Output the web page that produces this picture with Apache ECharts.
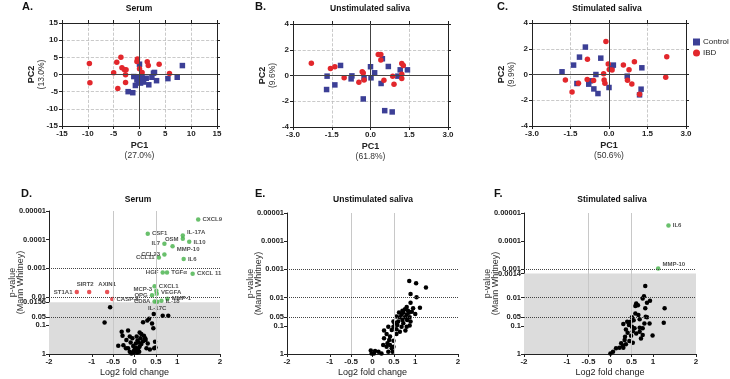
<!DOCTYPE html>
<html><head><meta charset="utf-8">
<script src="https://cdn.jsdelivr.net/npm/echarts@6/dist/echarts.min.js"></script>
<style>html,body{margin:0;padding:0;background:#fff}#c{width:730px;height:379px}</style>
</head><body><div id="c"></div>
<script>
// ---------------- DATA ----------------
const pcaTitles = ['Serum', 'Unstimulated saliva', 'Stimulated saliva'];
const pcaLetters = ['A.', 'B.', 'C.'];
const pc1Var = ['(27.0%)', '(61.8%)', '(50.6%)'];
const pc2Var = ['(13.0%)', '(9.6%)', '(9.9%)'];
const pcaTicksA = [-15, -10, -5, 0, 5, 10, 15];
const pcaXTicksBC = [-3.0, -1.5, 0.0, 1.5, 3.0];
const pcaYTicksBC = [-4, -2, 0, 2, 4];
const groupNames = ['Control', 'IBD'];

const pcaA_control = [[8.3,2.6],[7.3,-0.8],[5.5,-1.2],[3.3,-1.8],[2.7,0.4],[2.9,0.6],[1.3,-1.1],[1.8,-3.0],[0.0,3.0],[-1.1,-0.6],[-0.8,-3.2],[-2.2,-5.0],[-1.3,-5.3],[-0.2,-2.0],[0.2,-2.5],[0.5,-0.8],[-0.5,-1.6],[2.4,-0.8],[0.8,-2.2],[-0.3,-0.9]];
const pcaA_ibd = [[-9.7,3.2],[-9.6,-2.4],[-3.6,5.0],[-4.4,3.6],[-5.0,0.5],[-3.4,2.0],[-2.9,1.4],[-2.6,1.4],[-2.7,-0.1],[-2.7,-2.3],[-4.2,-4.1],[-0.4,4.5],[-0.5,3.8],[0.0,1.7],[0.5,0.6],[1.5,3.7],[1.7,2.6],[3.8,3.0],[5.8,0.3]];
const pcaB_control = [[-1.68,-0.05],[-1.70,-1.09],[-1.38,-0.73],[-1.16,0.78],[-0.72,-0.03],[-0.75,-0.26],[-0.25,-0.23],[-0.28,-1.82],[0.0,0.68],[0.02,-0.18],[0.16,0.21],[0.46,1.3],[0.41,-0.62],[0.69,0.70],[0.55,-2.73],[0.84,-2.83],[1.06,-0.05],[1.15,0.44],[1.43,0.44]];
const pcaB_ibd = [[-2.29,0.96],[-1.55,0.55],[-1.38,0.68],[-1.02,-0.18],[-0.45,-0.52],[-0.32,0.29],[-0.25,-0.35],[0.30,1.64],[0.40,1.64],[0.40,1.2],[0.52,-0.36],[0.86,-0.05],[0.91,-0.68],[1.21,0.94],[1.27,0.78],[1.21,0.10],[1.21,-0.23],[-0.28,0.2]];
const pcaC_control = [[-1.83,0.21],[-1.38,0.73],[-1.25,-0.70],[-1.15,1.35],[-0.92,2.13],[-0.79,-0.75],[-0.73,-0.49],[-0.59,-1.12],[-0.51,0.0],[-0.43,-1.48],[-0.32,1.27],[0.0,-1.01],[0.11,0.62],[0.17,0.73],[0.71,-0.13],[1.28,0.52],[1.25,-1.14],[1.19,-1.58]];
const pcaC_ibd = [[-1.70,-0.42],[-1.44,-1.35],[-1.19,-0.68],[-0.84,1.19],[-0.85,-0.39],[-0.60,-0.47],[-0.21,0.05],[-0.19,-0.42],[-0.16,-0.68],[-0.12,2.57],[-0.03,0.81],[0.01,0.39],[0.12,0.34],[0.56,0.73],[0.78,0.36],[0.72,-0.44],[0.89,-0.73],[0.99,0.99],[1.19,-1.53],[2.25,1.38],[2.21,-0.21]];

const volcTitles = ['Serum', 'Unstimulated saliva', 'Stimulated saliva'];
const volcLetters = ['D.', 'E.', 'F.'];
const volcXTicks = [-2, -1, -0.5, 0, 0.5, 1, 2];
const pTicksD = ['0.00001','0.0001','0.001','0.01','0.0156','0.05','0.1','1'];
const pTicksE = ['0.00001','0.0001','0.001','0.01','0.05','0.1','1'];
const pTicksF = ['0.00001','0.0001','0.001','0.0014','0.01','0.05','0.1','1'];
const pThresholdD = 0.0156;
const pThresholdF = 0.0014;
const pDottedLines = [0.001, 0.01, 0.05];
const fcLines = [-0.5, 0.5];

// Serum volcano: up-regulated (green)
const dUpNames = ['CXCL9','CSF1','IL-17A','OSM','IL10','IL7','MMP-10','CCL23','CCL11','IL6','HGF','TGFα','CXCL 11','CXCL1','MCP-3','VEGFA','OPG','MMP-1','CD8A','IL-17C','IL-18'];
const dUpLog2FC = [1.49,0.31,1.13,1.13,1.28,0.70,0.89,0.70,0.57,1.15,0.66,0.76,1.36,0.47,0.51,0.52,0.41,0.77,0.47,0.53,0.63];
const dUpP = [0.000020,0.000062,0.000072,0.000093,0.00012,0.00014,0.00017,0.00033,0.00042,0.00048,0.0014,0.0014,0.00155,0.0043,0.0062,0.0078,0.0089,0.0117,0.0145,0.0148,0.0138];
// Serum volcano: down-regulated (red)
const dDownNames = ['ST1A1','SIRT2','AXIN1','CASP-8'];
const dDownLog2FC = [-1.35,-1.06,-0.64,-0.52];
const dDownP = [0.0068,0.0068,0.0068,0.012];
// Serum volcano: not significant [log2FC, p]
const dNS = [[-0.57,0.0234],[-0.70,0.079],[0.45,0.040],[0.79,0.046],[0.66,0.046],[0.34,0.058],[0.30,0.068],[0.20,0.078],[0.41,0.085],[-0.15,0.151],[-0.30,0.166],[-0.28,0.229],[-0.38,0.513],[-0.26,0.49],[-0.19,0.324],[-0.11,0.245],[-0.05,0.282],[0.05,0.245],[0.12,0.178],[0.16,0.20],[0.22,0.229],[0.26,0.324],[0.31,0.427],[0.48,0.372],[0.49,0.589],[-0.15,0.631],[-0.11,0.832],[-0.07,0.955],[-0.02,0.891],[0.05,0.759],[0.09,0.631],[0.12,0.55],[0.16,0.447],[-0.03,0.525],[0.03,0.427],[0.07,0.339],[0.28,0.631],[0.36,0.692],[0.20,0.355],[-0.09,0.398],[-0.20,0.631],[0.11,0.832],[0.06,0.891],[0.00,0.708],[0.02,0.60],[-0.02,0.794],[0.14,0.282],[0.25,0.282],[0.10,0.398],[0.44,0.126],[0.46,0.63]];
// Unstimulated saliva volcano [log2FC, p]
const eNS = [[0.86,0.0026],[1.02,0.0031],[1.25,0.0044],[0.89,0.0074],[1.03,0.0098],[0.89,0.0151],[1.11,0.0229],[0.95,0.024],[0.80,0.0214],[0.76,0.0257],[0.83,0.0295],[0.70,0.0295],[0.92,0.0316],[1.00,0.038],[0.80,0.0407],[0.76,0.050],[0.64,0.050],[0.56,0.0468],[0.70,0.0617],[0.81,0.0617],[0.60,0.0708],[0.49,0.0708],[0.58,0.0933],[0.68,0.107],[0.87,0.098],[0.49,0.107],[0.37,0.107],[0.72,0.081],[0.80,0.107],[0.45,0.141],[0.56,0.132],[0.77,0.148],[0.64,0.162],[0.27,0.148],[0.33,0.195],[0.56,0.195],[0.27,0.275],[0.41,0.24],[0.49,0.339],[0.39,0.316],[0.35,0.417],[0.41,0.479],[0.33,0.55],[0.25,0.479],[0.45,0.631],[0.49,0.55],[0.37,0.832],[0.21,0.955],[0.14,0.832],[-0.04,0.759],[0.06,0.776],[0.03,0.955],[-0.02,0.955],[0.47,0.832],[0.62,0.0339],[0.68,0.0407],[0.87,0.050],[0.89,0.0708],[0.52,0.081],[0.72,0.0339],[0.85,0.0347]];
// Stimulated saliva volcano
const fUpNames = ['IL6','MMP-10'];
const fUpLog2FC = [1.36,1.12];
const fUpP = [0.0000275,0.00093];
const fNS = [[0.82,0.0039],[0.79,0.0089],[0.76,0.0107],[0.93,0.0129],[0.86,0.0151],[0.61,0.0162],[0.65,0.0186],[0.59,0.020],[1.27,0.024],[0.82,0.024],[0.59,0.0363],[0.66,0.0417],[0.83,0.0479],[0.86,0.050],[0.51,0.050],[0.55,0.063],[0.69,0.0589],[0.40,0.0724],[0.48,0.0724],[1.25,0.0776],[0.92,0.0832],[0.44,0.0933],[0.51,0.107],[0.69,0.117],[0.76,0.123],[0.31,0.087],[0.37,0.135],[0.53,0.155],[0.69,0.162],[0.76,0.214],[0.99,0.219],[0.35,0.245],[0.49,0.224],[0.61,0.186],[0.72,0.282],[0.34,0.316],[0.45,0.347],[0.53,0.398],[0.26,0.417],[0.37,0.447],[0.30,0.513],[0.22,0.603],[0.31,0.603],[0.14,0.631],[0.07,0.832],[0.01,0.955],[0.41,0.178],[0.57,0.123],[0.80,0.0832]];

// ---------------- STYLE ----------------
const FONT = '"Liberation Sans", Arial, sans-serif';
const C_BLUE = '#3c3f96', C_RED = '#e2272c', C_GREEN = '#43b047';
const AX = '#222';
const labelPlaceD = {
  'CXCL9':['right',[0,0]],'CSF1':['right',[0,0]],'IL-17A':['right',[0,-3]],'OSM':['left',[0,1]],'IL10':['right',[0,0]],
  'IL7':['left',[0,0]],'MMP-10':['right',[0,3]],'CCL23':['left',[0,0]],'CCL11':['left',[0,0]],'IL6':['right',[0,0]],
  'HGF':['left',[0,0]],'TGFα':['right',[0,0]],'CXCL 11':['right',[0,0]],'CXCL1':['right',[0,0]],'MCP-3':['left',[0,-2]],
  'VEGFA':['right',[0,-1]],'OPG':['left',[0,0]],'MMP-1':['right',[0,0]],'CD8A':['left',[0,0]],'IL-17C':['bottom',[0,-1]],
  'IL-18':['right',[0,1]],'ST1A1':['left',[0,0]],'SIRT2':['top',[-4,0]],'AXIN1':['top',[0,0]],'CASP-8':['right',[0,0]]
};
const labelPlaceF = {'IL6':['right',[0,0]],'MMP-10':['right',[0,-4]]};

const pcaGrids = [
  {left:62, top:23, width:155, height:103},
  {left:293, top:24, width:155, height:103},
  {left:532, top:23, width:154, height:103}
];
const volcGrids = [
  {left:49, top:211, width:171, height:143},
  {left:287, top:213, width:171, height:141},
  {left:524, top:213, width:172, height:141}
];
const pcaTitleX = [139, 370, 607];
const pcaLetterX = [22, 255, 497];
const volcTitleX = [138, 373, 612];
const volcLetterX = [21, 255, 494];

const nl = p => -Math.log10(p);

const grid = [], xAxis = [], yAxis = [], series = [], title = [];
[...pcaGrids, ...volcGrids].forEach(g => grid.push(Object.assign({outerBoundsMode:'none', containLabel:false}, g)));

const richName = {
  b:{fontSize:9, fontWeight:'bold', fontFamily:FONT, color:'#222', lineHeight:10},
  n:{fontSize:8.5, fontFamily:FONT, color:'#333', lineHeight:10}
};
const tickLabel = {fontSize:8, fontWeight:'bold', color:'#222', fontFamily:FONT};

// PCA panels
const pcaData = [[pcaA_control, pcaA_ibd],[pcaB_control, pcaB_ibd],[pcaC_control, pcaC_ibd]];
for (let i = 0; i < 3; i++) {
  const xt = i === 0 ? pcaTicksA : pcaXTicksBC;
  const yt = i === 0 ? pcaTicksA : pcaYTicksBC;
  const fmt = i === 0 ? (v => String(v)) : (v => v.toFixed(1));
  const base = {
    gridIndex:i, type:'value', nameMoveOverlap:false,
    axisLine:{show:true, onZero:false, lineStyle:{color:AX, width:1}},
    axisTick:{show:true, length:3, lineStyle:{color:AX}}
  };
  const xi = xAxis.length;
  xAxis.push(Object.assign({}, base, {
    position:'bottom', min:xt[0], max:xt[xt.length-1], interval:xt[1]-xt[0],
    axisLabel:Object.assign({margin:4, formatter:fmt}, tickLabel),
    splitLine:{show:true, lineStyle:{type:'dashed', color:'#bcbcbc', width:0.8}},
    name:'{b|PC1}\n{n|' + pc1Var[i] + '}', nameLocation:'middle', nameGap:15,
    nameTextStyle:{rich:richName}
  }));
  xAxis.push(Object.assign({}, base, {
    position:'top', min:xt[0], max:xt[xt.length-1], interval:xt[1]-xt[0],
    axisLabel:{show:false}, splitLine:{show:false}
  }));
  const yi = yAxis.length;
  yAxis.push(Object.assign({}, base, {
    position:'left', min:yt[0], max:yt[yt.length-1], interval:yt[1]-yt[0],
    axisLabel:Object.assign({margin:4}, tickLabel),
    splitLine:{show:true, lineStyle:{type:'dashed', color:'#bcbcbc', width:0.8}},
    name:'{b|PC2}\n{n|' + pc2Var[i] + '}', nameLocation:'middle', nameGap:15, nameRotate:90,
    nameTextStyle:{rich:richName}
  }));
  yAxis.push(Object.assign({}, base, {
    position:'right', min:yt[0], max:yt[yt.length-1], interval:yt[1]-yt[0],
    axisLabel:{show:false}, splitLine:{show:false}
  }));
  series.push({
    type:'line', name:'_zero' + i, xAxisIndex:xi, yAxisIndex:yi, data:[], silent:true, z:1,
    markLine:{silent:true, symbol:'none', label:{show:false}, animation:false,
      lineStyle:{color:'#444', type:'solid', width:1},
      data:[{xAxis:0},{yAxis:0}]}
  });
  series.push({type:'scatter', name:groupNames[0], xAxisIndex:xi, yAxisIndex:yi, data:pcaData[i][0],
    symbol:'rect', symbolSize:5.5, itemStyle:{color:C_BLUE, opacity:1}, z:3, animation:false});
  series.push({type:'scatter', name:groupNames[1], xAxisIndex:xi, yAxisIndex:yi, data:pcaData[i][1],
    symbol:'circle', symbolSize:5.5, itemStyle:{color:C_RED, opacity:1}, z:4, animation:false});
  title.push({text:pcaLetters[i], left:pcaLetterX[i], top:1, padding:0,
    textStyle:{fontSize:11, fontWeight:'bold', fontFamily:FONT, color:'#111'}});
  title.push({text:pcaTitles[i], left:pcaTitleX[i], top:4, padding:0, textAlign:'center',
    textStyle:{fontSize:8.5, fontWeight:'bold', fontFamily:FONT, color:'#111'}});
}

// Volcano panels
const pTicksAll = [pTicksD, pTicksE, pTicksF];
const thresholds = [pThresholdD, null, pThresholdF];
function labelled(names, fc, p, place, color) {
  return names.map((n, k) => ({
    name:n, value:[fc[k], nl(p[k])],
    label:{show:true, formatter:n, position:place[n][0], offset:place[n][1], distance:2,
      fontSize:6, fontWeight:'bold', fontFamily:FONT, color:'#1a1a1a'},
    itemStyle:{color:color}
  }));
}
for (let i = 0; i < 3; i++) {
  const gi = 3 + i;
  const ticks = pTicksAll[i];
  const tickVals = ticks.map(s => nl(parseFloat(s)));
  const xi = xAxis.length;
  xAxis.push({
    gridIndex:gi, type:'value', min:-2, max:2, interval:0.5, position:'bottom', nameMoveOverlap:false,
    axisLine:{show:true, onZero:false, lineStyle:{color:AX, width:1}},
    axisTick:{show:true, length:3, lineStyle:{color:AX}, customValues:volcXTicks},
    axisLabel:Object.assign({margin:4, customValues:volcXTicks, formatter:v => String(v)}, tickLabel),
    splitLine:{show:false},
    name:'Log2 fold change', nameLocation:'middle', nameGap:14,
    nameTextStyle:{fontSize:9, fontFamily:FONT, color:'#222'}
  });
  const yi = yAxis.length;
  yAxis.push({
    gridIndex:gi, type:'value', min:0, max:5, position:'left', nameMoveOverlap:false,
    axisLine:{show:true, onZero:false, lineStyle:{color:AX, width:1}},
    axisTick:{show:true, length:3, lineStyle:{color:AX}, customValues:tickVals},
    axisLabel:Object.assign({margin:3, customValues:tickVals, formatter:v => {
      let best = ticks[0], bd = 1e9;
      ticks.forEach((s, k) => { const d = Math.abs(tickVals[k] - v); if (d < bd) { bd = d; best = s; } });
      return best;
    }}, tickLabel, {fontSize:7.5}),
    splitLine:{show:false},
    name:'p-value\n(Mann Whitney)', nameLocation:'middle', nameGap:24, nameRotate:90,
    nameTextStyle:{fontSize:9, fontFamily:FONT, color:'#333', lineHeight:8.5}
  });
  const mlData = [];
  fcLines.forEach(x => mlData.push({xAxis:x, lineStyle:{color:'#c8c8c8', type:'solid', width:1}}));
  pDottedLines.forEach(p => mlData.push({yAxis:nl(p), lineStyle:{color:'#444', type:'dotted', width:1}}));
  const bg = {
    type:'line', name:'_bg' + i, xAxisIndex:xi, yAxisIndex:yi, data:[], silent:true, z:1,
    markLine:{silent:true, symbol:'none', label:{show:false}, animation:false, data:mlData}
  };
  if (thresholds[i]) {
    bg.markArea = {silent:true, animation:false, itemStyle:{color:'#dcdcdc'},
      data:[[{yAxis:0},{yAxis:nl(thresholds[i])}]]};
  }
  series.push(bg);
  const ns = i === 0 ? dNS : (i === 1 ? eNS : fNS);
  series.push({type:'scatter', name:'_ns' + i, xAxisIndex:xi, yAxisIndex:yi, z:3, animation:false,
    data:ns.map(d => [d[0], nl(d[1])]), symbolSize:4.5, itemStyle:{color:'#000', opacity:1}});
  if (i === 0) {
    series.push({type:'scatter', name:'_up0', xAxisIndex:xi, yAxisIndex:yi, z:4, animation:false,
      symbolSize:4.5, data:labelled(dUpNames, dUpLog2FC, dUpP, labelPlaceD, C_GREEN)});
    series.push({type:'scatter', name:'_down0', xAxisIndex:xi, yAxisIndex:yi, z:4, animation:false,
      symbolSize:4.5, data:labelled(dDownNames, dDownLog2FC, dDownP, labelPlaceD, C_RED)});
  }
  if (i === 2) {
    series.push({type:'scatter', name:'_up2', xAxisIndex:xi, yAxisIndex:yi, z:4, animation:false,
      symbolSize:4.5, data:labelled(fUpNames, fUpLog2FC, fUpP, labelPlaceF, C_GREEN)});
  }
  title.push({text:volcLetters[i], left:volcLetterX[i], top:188, padding:0,
    textStyle:{fontSize:11, fontWeight:'bold', fontFamily:FONT, color:'#111'}});
  title.push({text:volcTitles[i], left:volcTitleX[i], top:195, padding:0, textAlign:'center',
    textStyle:{fontSize:8.5, fontWeight:'bold', fontFamily:FONT, color:'#111'}});
}

const chart = echarts.init(document.getElementById('c'), null, {renderer:'canvas'});
chart.setOption({
  animation:false,
  backgroundColor:'#fff',
  title:title,
  legend:{
    data:[{name:'Control', icon:'rect'},{name:'IBD', icon:'circle'}],
    orient:'vertical', left:693, top:38, itemWidth:7, itemHeight:7, itemGap:3, padding:0,
    textStyle:{fontSize:8, fontFamily:FONT, color:'#222', padding:[0,0,0,-2]}
  },
  grid:grid, xAxis:xAxis, yAxis:yAxis, series:series
});
</script></body></html>
